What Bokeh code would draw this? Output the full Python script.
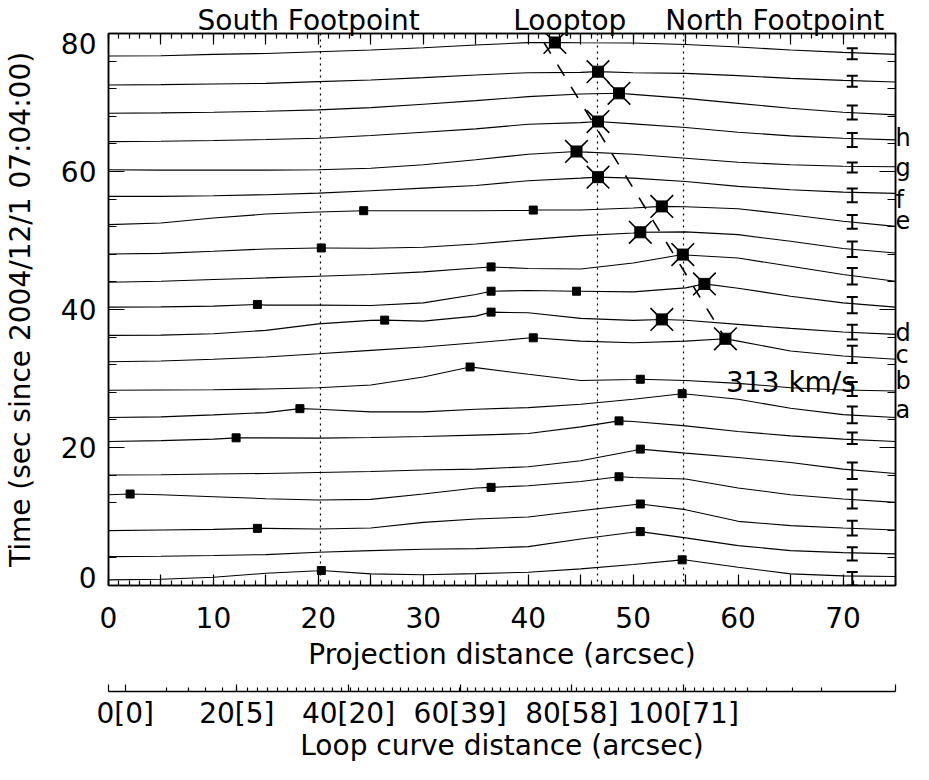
from bokeh.plotting import figure
from bokeh.layouts import column
from bokeh.models import (Range1d, LinearAxis, FixedTicker, Label, Whisker, TeeHead,
                          ColumnDataSource, Span)
from bokeh.embed import file_html
from bokeh.resources import INLINE

FONT = "DejaVu Sans"
FS = "28px"

# ---------------- data ----------------
x_samples = [0, 5, 10, 15, 20, 25, 30, 35, 40, 45, 50, 55, 60, 65, 70, 75]

curve_00 = [0.82, 0.90, 1.19, 1.77, 2.13, 1.69, 1.55, 1.72, 1.92, 2.41, 3.04, 3.70, 2.65, 1.69, 1.40, 1.30]
curve_01 = [4.19, 4.24, 4.34, 4.48, 4.82, 5.06, 5.25, 5.35, 5.64, 6.75, 7.71, 6.90, 5.78, 5.06, 4.77, 4.58]
curve_02 = [7.95, 8.05, 8.14, 8.28, 8.19, 8.34, 9.15, 9.64, 9.92, 10.84, 11.71, 10.99, 9.30, 8.68, 8.34, 8.05]
curve_03 = [13.16, 13.16, 12.87, 12.58, 12.39, 12.48, 13.26, 14.13, 14.46, 15.08, 15.66, 15.43, 14.13, 13.16, 12.54, 12.05]
curve_04 = [16.01, 16.05, 16.15, 16.24, 16.38, 16.53, 16.73, 16.87, 17.21, 18.07, 19.52, 19.18, 18.55, 17.83, 16.87, 16.24]
curve_05 = [20.86, 21.00, 21.21, 21.40, 21.36, 21.44, 21.59, 21.79, 22.02, 22.99, 23.76, 23.14, 22.31, 21.69, 21.21, 20.86]
curve_06 = [24.34, 24.44, 24.73, 25.06, 25.55, 25.16, 25.16, 25.55, 25.78, 26.27, 26.99, 27.75, 26.99, 25.69, 24.77, 24.34]
curve_07 = [28.30, 28.34, 28.38, 28.48, 28.67, 29.06, 30.22, 31.57, 30.61, 29.70, 29.85, 29.70, 29.30, 28.67, 28.34, 28.19]
curve_08 = [32.43, 32.53, 32.78, 33.11, 33.59, 34.08, 34.56, 35.18, 35.86, 35.42, 35.18, 35.42, 35.42, 33.98, 33.26, 32.78]
curve_09 = [36.25, 36.29, 36.48, 36.97, 37.92, 38.42, 38.32, 39.04, 39.52, 38.71, 38.42, 38.45, 37.84, 37.26, 36.73, 36.39]
curve_10 = [40.34, 40.38, 40.49, 40.63, 40.63, 40.59, 40.96, 42.18, 42.75, 42.65, 42.55, 43.13, 43.09, 41.93, 40.96, 40.34]
curve_11 = [43.96, 44.10, 44.35, 44.58, 44.82, 45.07, 45.45, 46.02, 45.94, 45.87, 46.75, 47.90, 47.46, 46.27, 45.07, 44.10]
curve_12 = [48.05, 48.14, 48.44, 48.77, 48.92, 48.87, 49.02, 49.50, 50.13, 50.71, 51.09, 51.25, 50.85, 49.88, 48.83, 48.19]
curve_13 = [52.30, 52.53, 53.25, 53.83, 54.12, 54.32, 54.32, 54.32, 54.37, 54.41, 54.70, 54.90, 54.61, 53.74, 52.78, 52.05]
curve_14 = [56.39, 56.39, 56.49, 56.64, 56.87, 57.22, 57.59, 57.98, 58.66, 59.04, 59.04, 58.56, 57.84, 57.36, 57.01, 56.83]
curve_15 = [60.25, 60.20, 60.20, 60.20, 60.25, 60.48, 60.97, 61.70, 62.51, 62.85, 62.51, 61.93, 61.35, 60.97, 60.77, 60.69]
curve_16 = [64.33, 64.39, 64.49, 64.63, 64.82, 65.21, 65.69, 66.18, 66.85, 67.09, 66.90, 66.37, 65.69, 65.17, 64.82, 64.59]
curve_17 = [68.44, 68.49, 68.58, 68.73, 68.93, 69.26, 69.74, 70.27, 70.85, 71.24, 71.18, 70.60, 69.88, 69.16, 68.58, 68.20]
curve_18 = [72.54, 72.59, 72.69, 72.77, 73.02, 73.27, 73.60, 73.99, 74.32, 74.36, 74.32, 74.22, 73.89, 73.50, 73.21, 72.98]
curve_19 = [76.74, 76.78, 76.97, 77.11, 77.36, 77.60, 77.94, 78.33, 78.68, 78.66, 78.62, 78.41, 78.04, 77.60, 77.26, 76.97]

curves = [curve_00, curve_01, curve_02, curve_03, curve_04, curve_05, curve_06, curve_07,
          curve_08, curve_09, curve_10, curve_11, curve_12, curve_13, curve_14, curve_15,
          curve_16, curve_17, curve_18, curve_19]

# small filled squares (curve index, x, y)
sq_curve = [13, 13, 12, 11, 10, 10, 10, 9, 9, 8, 7, 7, 6, 6, 5, 5, 4, 3, 3, 3, 2, 2, 1, 0, 0]
sq_x = [24.32, 40.48, 20.28, 36.46, 14.19, 36.46, 44.60, 26.32, 36.46, 40.48, 34.46, 50.68,
        18.24, 54.67, 12.16, 48.65, 50.68, 2.06, 36.46, 48.65, 14.19, 50.68, 50.68, 20.28, 54.67]
sq_y = [54.32, 54.41, 48.92, 46.17, 40.73, 42.65, 42.65, 38.46, 39.62, 35.90, 31.67, 29.89,
        25.63, 27.80, 21.40, 23.86, 19.77, 13.26, 14.22, 15.76, 8.28, 11.81, 7.81, 2.17, 3.72]

# crossed squares (tracked looptop source)
cross_curve = [19, 18, 17, 16, 15, 14, 13, 12, 11, 10, 9, 8]
cross_x = [42.54, 46.65, 48.65, 46.65, 44.60, 46.65, 52.73, 50.68, 54.73, 56.79, 52.73, 58.79]
cross_y = [78.70, 74.47, 71.33, 67.24, 62.90, 59.18, 54.94, 51.19, 47.96, 43.71, 38.56, 35.76]

# linear fit of the moving source
fit_x = [41.5, 58.79]
fit_y = [78.70, 35.76]
fit_label = "313 km/s"
fit_label_x = 58.85
fit_label_y = 29.35

# reference positions
foot_x = [20.2, 46.6, 54.8]
foot_names = ["South Footpoint", "Looptop", "North Footpoint"]
foot_label_x = [19.07, 43.96, 63.49]

# error bars
err_x = 70.88
err_y = [0.97, 4.58, 8.31, 12.54, 16.63, 21.33, 24.73, 28.49, 33.50, 36.73,
         40.63, 44.82, 48.73, 52.70, 56.54, 60.59, 64.56, 68.54, 73.09, 77.07]
err_half = [0.97, 0.97, 1.08, 1.37, 1.20, 0.84, 1.20, 1.01, 1.24, 1.07,
            1.19, 1.20, 1.11, 1.01, 0.98, 0.72, 1.01, 1.01, 0.80, 0.80]

side_letters = ["a", "b", "c", "d", "e", "f", "g", "h"]
side_y = [25.50, 29.70, 33.46, 36.64, 52.84, 55.88, 60.51, 64.85]

# axes
x_major = [0, 5, 10, 15, 20, 25, 30, 35, 40, 45, 50, 55, 60, 65, 70, 75]
x_minor = list(range(0, 76))
x_label_text = {0: "0", 5: "", 10: "10", 15: "", 20: "20", 25: "", 30: "30", 35: "",
                40: "40", 45: "", 50: "50", 55: "", 60: "60", 65: "", 70: "70", 75: ""}
y_major = [0, 20, 40, 60, 80]
y_minor = list(range(0, 81, 4))
y_label_pos = [1.16, 20, 40, 60, 78.51]
y_label_text = {1.16: "0", 20: "20", 40: "40", 60: "60", 78.51: "80"}

loop_start, loop_end = -3, 138
loop_major = [-3, 0, 20, 40, 60, 80, 100, 138]
loop_label_text = {-3: "", 0: "0[0]", 20: "20[5]", 40: "40[20]", 60: "60[39]", 80: "80[58]",
                   100: "100[71]", 138: ""}
loop_minor = [7.32, 11.38, 14.46, 17.45, 19.95, 21.91, 23.70, 25.48, 27.27, 29.05, 30.71,
              32.32, 33.93, 35.48, 37.09, 38.70, 40.36, 41.84, 43.34, 44.82, 46.30, 47.80,
              49.30, 50.80, 52.30, 53.80, 55.30, 56.80, 58.30, 59.80, 61.30, 62.80, 64.30,
              65.80, 67.30, 68.80, 70.30, 71.80, 73.30, 74.80, 76.30, 77.80, 79.30, 80.80,
              82.30, 83.80, 85.30, 86.80, 88.30, 89.80, 91.30, 92.80, 94.30, 95.80, 97.30,
              98.80, 100.36, 101.96, 103.66, 105.45, 107.32, 109.29, 111.43, 114.82,
              119.46, 124.82]


# ---------------- helpers ----------------
def base_axis(ax, tin=0, tmin=0):
    ax.axis_line_color = "black"
    ax.axis_line_width = 1.5
    ax.major_tick_line_color = "black"
    ax.minor_tick_line_color = "black"
    ax.major_tick_line_width = 1.2
    ax.minor_tick_line_width = 1.2
    ax.major_tick_in = tin
    ax.major_tick_out = 0
    ax.minor_tick_in = tmin
    ax.minor_tick_out = 0
    ax.major_label_text_font = FONT
    ax.major_label_text_font_size = FS
    ax.major_label_text_color = "black"
    ax.axis_label_text_font = FONT
    ax.axis_label_text_font_size = FS
    ax.axis_label_text_font_style = "normal"
    ax.axis_label_text_color = "black"


def ticks_only(ax, tin, tmin):
    base_axis(ax, tin, tmin)
    ax.major_label_text_color = None
    ax.major_label_standoff = 0


def labels_only(ax):
    base_axis(ax)
    ax.axis_line_color = None
    ax.major_tick_line_color = None
    ax.minor_tick_line_color = None


# ---------------- main figure ----------------
p = figure(width=913, height=683, output_backend="svg", toolbar_location=None,
           x_range=Range1d(0, 75), y_range=Range1d(0, 80),
           x_axis_location=None, y_axis_location=None,
           min_border_left=107, min_border_right=16, min_border_top=32, min_border_bottom=98)
p.grid.visible = False
p.outline_line_color = "black"
p.outline_line_width = 1.5
p.background_fill_color = "white"
p.border_fill_color = "white"

xb = LinearAxis(ticker=FixedTicker(ticks=x_major, minor_ticks=x_minor),
                major_label_overrides=x_label_text,
                axis_label="Projection distance (arcsec)")
base_axis(xb, 11, 5)
xb.major_label_standoff = 21
xb.axis_label_standoff = 7
p.add_layout(xb, "below")

xt = LinearAxis(ticker=FixedTicker(ticks=x_major, minor_ticks=x_minor))
ticks_only(xt, 11, 5)
p.add_layout(xt, "above")

xt_text = LinearAxis(ticker=FixedTicker(ticks=foot_label_x, minor_ticks=[]),
                     major_label_overrides=dict(zip(foot_label_x, foot_names)))
labels_only(xt_text)
xt_text.major_label_standoff = -3
p.add_layout(xt_text, "above")

yl = LinearAxis(ticker=FixedTicker(ticks=y_major, minor_ticks=y_minor))
ticks_only(yl, 16, 8)
p.add_layout(yl, "left")

ylab = LinearAxis(ticker=FixedTicker(ticks=y_label_pos, minor_ticks=[]),
                  major_label_overrides=y_label_text,
                  axis_label="Time (sec since 2004/12/1 07:04:00)")
labels_only(ylab)
ylab.major_label_standoff = 12
ylab.axis_label_standoff = 21
p.add_layout(ylab, "left")

yr = LinearAxis(ticker=FixedTicker(ticks=y_major, minor_ticks=y_minor))
ticks_only(yr, 16, 8)
p.add_layout(yr, "right")

ylet = LinearAxis(ticker=FixedTicker(ticks=side_y, minor_ticks=[]),
                  major_label_overrides=dict(zip(side_y, side_letters)))
labels_only(ylet)
ylet.major_label_text_font_size = "24px"
ylet.major_label_standoff = 0
p.add_layout(ylet, "right")

# dotted reference lines
for fx in foot_x:
    p.add_layout(Span(location=fx, dimension="height", line_color="black",
                      line_dash="2 4", line_width=1.2))

# curves (sample points plus the marked points on each curve)
line_xs, line_ys = [], []
for i, cy in enumerate(curves):
    pts = list(zip(x_samples, cy))
    pts += [(x, y) for c, x, y in zip(sq_curve, sq_x, sq_y) if c == i]
    pts += [(x, y) for c, x, y in zip(cross_curve, cross_x, cross_y) if c == i]
    pts.sort()
    line_xs.append([q[0] for q in pts])
    line_ys.append([q[1] for q in pts])
p.multi_line(line_xs, line_ys, line_color="black", line_width=1.1)

# fit line and speed label
p.line(fit_x, fit_y, line_color="black", line_width=1.6, line_dash="13 13")
p.add_layout(Label(x=fit_label_x, y=fit_label_y, text=fit_label, text_align="left",
                   text_baseline="alphabetic", text_font=FONT, text_font_size=FS,
                   text_color="black"))

# markers
p.scatter(sq_x, sq_y, marker="square", size=8, fill_color="black", line_color="black")
p.scatter(cross_x, cross_y, marker="square", size=11, fill_color="black", line_color="black")
p.scatter(cross_x, cross_y, marker="x", size=32, line_color="black", line_width=1.6)

# error bars
err_src = ColumnDataSource(dict(
    base=[err_x] * len(err_y),
    upper=[c + h for c, h in zip(err_y, err_half)],
    lower=[c - h for c, h in zip(err_y, err_half)],
))
p.add_layout(Whisker(source=err_src, base="base", upper="upper", lower="lower",
                     dimension="height", line_color="black", line_width=2,
                     upper_head=TeeHead(size=11, line_width=2, line_color="black"),
                     lower_head=TeeHead(size=11, line_width=2, line_color="black")))

# ---------------- loop-curve-distance axis (second panel) ----------------
p2 = figure(width=913, height=81, output_backend="svg", toolbar_location=None,
            x_range=Range1d(loop_start, loop_end), y_range=Range1d(0, 1),
            x_axis_location=None, y_axis_location=None,
            min_border_left=107, min_border_right=16, min_border_top=7, min_border_bottom=70)
p2.grid.visible = False
p2.outline_line_color = None
p2.background_fill_color = "white"
p2.border_fill_color = "white"

loop_ax = LinearAxis(ticker=FixedTicker(ticks=loop_major, minor_ticks=loop_minor),
                     major_label_overrides=loop_label_text,
                     axis_label="Loop curve distance (arcsec)")
base_axis(loop_ax, 7, 4)
loop_ax.major_label_standoff = 5
loop_ax.axis_label_standoff = -4
p2.add_layout(loop_ax, "below")

layout = column(p, p2)
open("out.html", "w").write(file_html(layout, INLINE))
